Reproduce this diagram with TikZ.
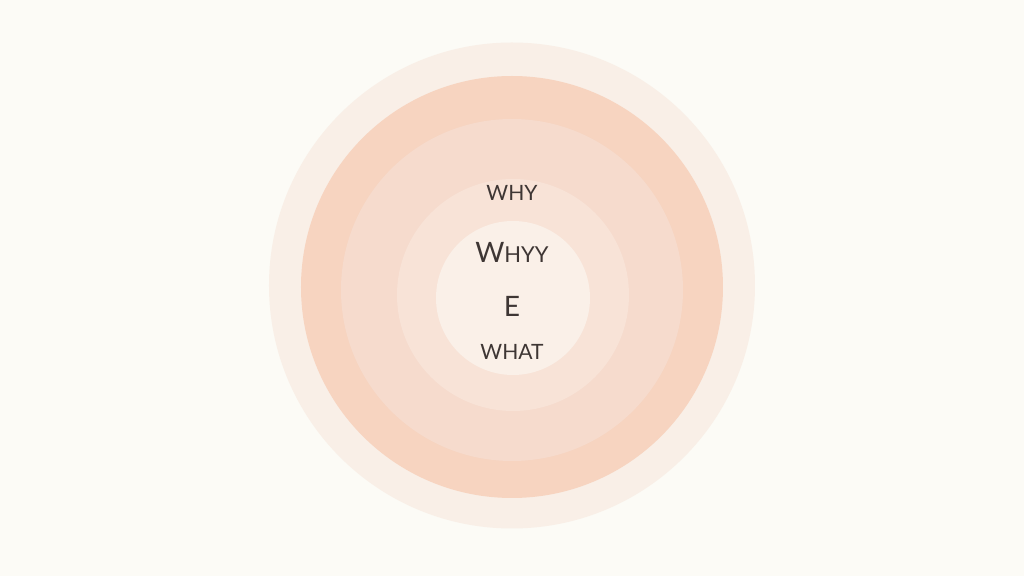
\documentclass[tikz,border=0pt]{standalone}
\usepackage{fontspec}
\setmainfont{Lato}
\definecolor{bgcream}{RGB}{252,251,246}
\definecolor{ringa}{RGB}{249,239,231}
\definecolor{ringb}{RGB}{247,212,192}
\definecolor{ringc}{RGB}{246,219,205}
\definecolor{ringd}{RGB}{248,227,215}
\definecolor{ringe}{RGB}{250,240,232}
\definecolor{inkgray}{RGB}{62,54,52}

\begin{document}
\begin{tikzpicture}[
      lbl/.style={text=inkgray,inner sep=0pt,font=\fontsize{12}{14}\selectfont},
      big/.style={lbl,font=\fontsize{16}{19}\selectfont}]
    \fill[bgcream] (-10.24,-5.76) rectangle (10.24,5.76);
    \useasboundingbox (-10.24,-5.76) rectangle (10.24,5.76);
    \fill[ringa] (0,0.05)  circle (4.86);
    \fill[ringb] (0,0.02)  circle (4.22);
    \fill[ringc] (0,-0.04) circle (3.42);
    \fill[ringd] (0.02,-0.14) circle (2.32);
    \fill[ringe] (0.02,-0.20) circle (1.54);
    \node[lbl] (why)  at (0,1.90)   {WHY};
    \node[big] (whyy) at (0,0.72)   {W{\fontsize{12.5}{15}\selectfont HYY}};
    \node[big] (e)    at (0,-0.36)  {E};
    \node[lbl] (what) at (0,-1.28)  {WHAT};
  \end{tikzpicture}
\end{document}
